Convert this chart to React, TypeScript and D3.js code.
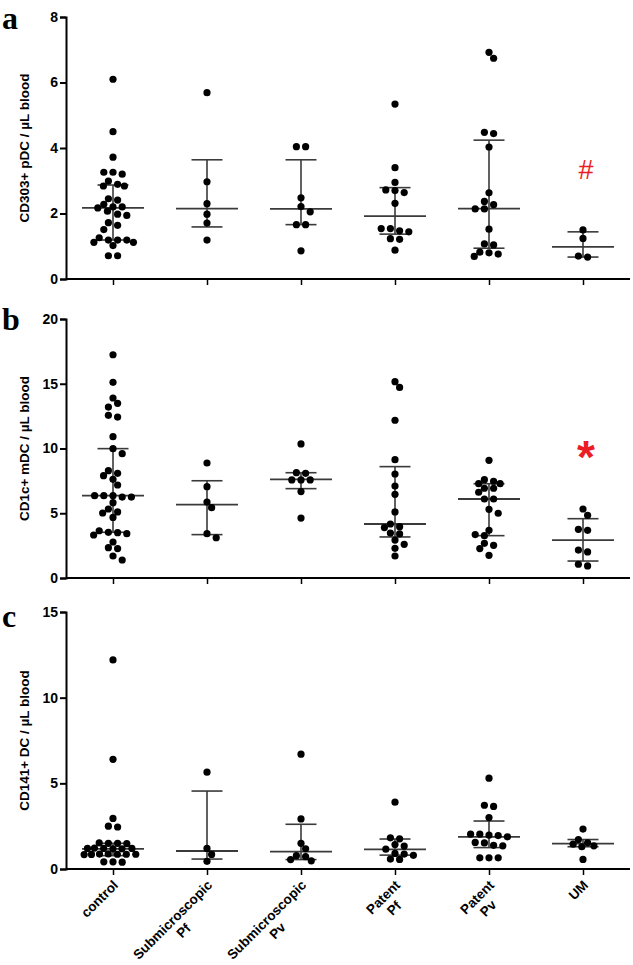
import React, { useEffect, useRef } from "react";
import * as d3 from "d3";

// groups along the x axis (label lines as printed)
const groups = ["control", "Submicroscopic Pf", "Submicroscopic Pv", "Patent Pf", "Patent Pv", "UM"];
const groupLabelLines = [
  ["control"],
  ["Submicroscopic", "Pf"],
  ["Submicroscopic", "Pv"],
  ["Patent", "Pf"],
  ["Patent", "Pv"],
  ["UM"],
];

// panel a: CD303+ pDC / uL blood
const pdcControl = [6.1, 4.5, 3.72, 3.26, 3.2, 3.26, 2.99, 2.84, 2.84, 2.89, 2.45, 2.41, 2.28, 2.2, 2.17, 2.2, 2.07, 1.98, 1.94, 1.72, 1.64, 1.51, 1.19, 1.19, 1.12, 1.12, 1.19, 1.26, 1.02, 0.71, 0.71];
const pdcSubPf = [5.69, 2.97, 2.3, 1.98, 1.71, 1.19];
const pdcSubPv = [4.04, 4.04, 2.48, 2.21, 2.05, 1.66, 1.66, 0.86];
const pdcPatPf = [5.34, 3.4, 2.95, 2.72, 2.64, 2.7, 2.31, 1.47, 1.54, 1.54, 1.44, 1.23, 1.21, 0.88];
const pdcPatPv = [6.92, 6.74, 4.44, 4.48, 4.03, 2.63, 2.37, 2.27, 2.14, 2.14, 1.52, 1.07, 1.04, 0.8, 0.69, 0.76, 0.82];
const pdcUM = [1.5, 1.24, 0.67, 0.7];
const pdcMedian = [2.17, 2.15, 2.14, 1.92, 2.15, 0.98];
const pdcQ1 = [1.19, 1.59, 1.66, 1.37, 0.94, 0.67];
const pdcQ3 = [2.87, 3.64, 3.64, 2.79, 4.24, 1.44];

// panel b: CD1c+ mDC / uL blood
const mdcControl = [17.24, 15.11, 13.9, 13.49, 13.2, 12.56, 12.43, 10.91, 9.99, 9.6, 8.08, 8.29, 7.62, 7.9, 7.18, 6.36, 6.25, 6.25, 6.36, 6.36, 5.82, 5.33, 5.1, 5.02, 4.68, 3.65, 3.5, 3.32, 3.42, 3.53, 2.78, 2.34, 2.27, 1.7, 1.39];
const mdcSubPf = [8.88, 7.05, 5.87, 5.43, 3.42, 3.11];
const mdcSubPv = [10.35, 8.13, 8.08, 7.57, 7.57, 7.57, 6.67, 4.63];
const mdcPatPf = [15.16, 14.72, 12.18, 9.14, 8.03, 7.1, 6.46, 5.1, 4.17, 3.89, 3.96, 3.4, 3.47, 2.93, 2.6, 2.29, 1.7];
const mdcPatPv = [9.09, 7.59, 7.47, 7.28, 7.28, 6.93, 6.93, 6.62, 6.1, 6.1, 5.3, 5.0, 3.68, 3.27, 3.35, 2.68, 2.52, 2.27, 1.75];
const mdcUM = [5.33, 4.84, 3.68, 3.76, 2.16, 2.01, 0.93, 1.06];
const mdcMedian = [6.36, 5.66, 7.62, 4.17, 6.1, 2.93];
const mdcQ1 = [3.53, 3.35, 6.9, 3.17, 3.27, 1.31];
const mdcQ3 = [9.99, 7.51, 8.13, 8.6, 7.28, 4.58];

// panel c: CD141+ DC / uL blood
const cd141Control = [12.2, 6.4, 2.95, 2.5, 2.45, 1.52, 1.5, 1.5, 1.48, 1.2, 1.18, 1.2, 1.22, 1.18, 1.2, 0.86, 0.84, 0.88, 0.86, 0.85, 0.87, 0.86, 0.42, 0.4, 0.42];
const cd141SubPf = [5.65, 1.2, 0.85, 0.45];
const cd141SubPv = [6.7, 2.92, 1.5, 1.18, 0.78, 0.72, 0.55, 0.48];
const cd141PatPf = [3.9, 1.82, 1.76, 1.43, 1.34, 1.16, 0.91, 0.8, 0.87, 0.58, 0.56];
const cd141PatPv = [5.3, 3.65, 3.72, 3.0, 2.03, 1.98, 1.88, 1.95, 2.03, 1.55, 1.52, 1.35, 1.38, 0.65, 0.65, 0.65];
const cd141UM = [2.33, 1.72, 1.53, 1.45, 1.35, 1.3, 0.56];
const cd141Median = [1.18, 1.05, 1.01, 1.14, 1.88, 1.48];
const cd141Q1 = [0.78, 0.58, 0.55, 0.81, 1.25, 1.3];
const cd141Q3 = [1.5, 4.55, 2.61, 1.75, 2.8, 1.72];

const W = 633;
const H = 965;
const FONT = "'Liberation Sans', Arial, Helvetica, sans-serif";
const LINE = "#3a3a3a";
const RED = "#ec1c24";

const panels = [
  {
    letter: "a", title: "CD303+ pDC / \u00b5L blood", max: 8, step: 2, top: 17, bottom: 279, letterY: 29,
    values: [pdcControl, pdcSubPf, pdcSubPv, pdcPatPf, pdcPatPv, pdcUM],
    median: pdcMedian, q1: pdcQ1, q3: pdcQ3,
    mark: { text: "#", size: 27, weight: "normal", y: 179 },
  },
  {
    letter: "b", title: "CD1c+ mDC / \u00b5L blood", max: 20, step: 5, top: 319, bottom: 578, letterY: 330,
    values: [mdcControl, mdcSubPf, mdcSubPv, mdcPatPf, mdcPatPv, mdcUM],
    median: mdcMedian, q1: mdcQ1, q3: mdcQ3,
    mark: { text: "*", size: 46, weight: "bold", y: 473 },
  },
  {
    letter: "c", title: "CD141+ DC / \u00b5L blood", max: 15, step: 5, top: 612, bottom: 869, letterY: 627,
    values: [cd141Control, cd141SubPf, cd141SubPv, cd141PatPf, cd141PatPv, cd141UM],
    median: cd141Median, q1: cd141Q1, q3: cd141Q3,
    mark: null,
  },
];

// GraphPad-like scatter: rows of near-equal values spread symmetrically
function swarm(values: number[], y: (v: number) => number, s = 9.2, D = 7, th = 3.5) {
  const pts = values.map((v) => ({ v, y: y(v), x: 0 }));
  const sorted = [...pts].sort((a, b) => a.y - b.y);
  const rows: typeof pts[] = [];
  sorted.forEach((p) => {
    const last = rows[rows.length - 1];
    if (last && p.y - last[0].y < th) last.push(p);
    else rows.push([p]);
  });
  const placed: typeof pts = [];
  const fits = (x: number, yy: number) => placed.every((q) => Math.hypot(q.x - x, q.y - yy) >= D - 0.01);
  rows.forEach((row) => {
    const n = row.length;
    const layouts = [0, s / 2, -s / 2, s, -s].map((shift) => row.map((_, i) => (i - (n - 1) / 2) * s + shift));
    const ok = layouts.find((l) => l.every((x, i) => fits(x, row[i].y)));
    if (ok) {
      row.forEach((p, i) => { p.x = ok[i]; placed.push(p); });
      return;
    }
    row.forEach((p) => {
      const cands = [0];
      placed.forEach((q) => {
        const dy = Math.abs(q.y - p.y);
        if (dy < D) {
          const w = Math.sqrt(D * D - dy * dy);
          cands.push(q.x - w, q.x + w);
        }
      });
      cands.sort((a, b) => Math.abs(a) - Math.abs(b));
      p.x = cands.find((c) => fits(c, p.y)) ?? 0;
      placed.push(p);
    });
  });
  return pts;
}

export default function App() {
  const svgRef = useRef<SVGSVGElement>(null);

  useEffect(() => {
    if (!svgRef.current) return;
    const svg = d3.select(svgRef.current);
    svg.selectAll("*").remove();

    const axisLeft = 66;
    const axisRight = 630;
    const x = d3.scalePoint<string>().domain(groups).range([axisLeft, axisRight]).padding(0.5);

    panels.forEach((p, pi) => {
      const y = d3.scaleLinear().domain([0, p.max]).range([p.bottom, p.top]);
      const g = svg.append("g");

      // panel letter
      g.append("text")
        .attr("x", 2).attr("y", p.letterY)
        .attr("font-family", "'Liberation Serif', 'Times New Roman', serif")
        .attr("font-weight", "bold").attr("font-size", 32)
        .text(p.letter);

      // y axis title
      g.append("text")
        .attr("transform", `translate(24,${(p.top + p.bottom) / 2}) rotate(-90)`)
        .attr("text-anchor", "middle").attr("dy", "0.35em")
        .attr("font-family", FONT).attr("font-weight", "bold").attr("font-size", 13.5)
        .text(p.title);

      // y axis
      const yAxis = d3.axisLeft(y).tickValues(d3.range(0, p.max + 0.001, p.step)).tickSize(6).tickPadding(2).tickFormat(d3.format("d"));
      const ya = g.append("g").attr("transform", `translate(${axisLeft},0)`).call(yAxis);
      ya.select(".domain").attr("stroke", "#000").attr("stroke-width", 2);
      ya.selectAll(".tick line").attr("stroke", "#000").attr("stroke-width", 2);
      ya.selectAll(".tick text").attr("font-family", FONT).attr("font-weight", "bold").attr("font-size", 14).attr("fill", "#000");

      // x axis
      const xAxis = d3.axisBottom(x).tickSize(6).tickFormat(() => "");
      const xa = g.append("g").attr("transform", `translate(0,${p.bottom})`).call(xAxis);
      xa.select(".domain").attr("stroke", "#000").attr("stroke-width", 2).attr("d", `M${axisLeft},0H${axisRight}`);
      xa.selectAll(".tick line").attr("stroke", "#000").attr("stroke-width", 1.5);

      // median + interquartile range
      groups.forEach((grp, i) => {
        const cx = x(grp)!;
        const bars = g.append("g").attr("stroke", LINE).attr("fill", "none");
        bars.append("line").attr("x1", cx).attr("x2", cx).attr("y1", y(p.q1[i])).attr("y2", y(p.q3[i])).attr("stroke-width", 1.6);
        bars.append("line").attr("x1", cx - 15.5).attr("x2", cx + 15.5).attr("y1", y(p.q1[i])).attr("y2", y(p.q1[i])).attr("stroke-width", 1.6);
        bars.append("line").attr("x1", cx - 15.5).attr("x2", cx + 15.5).attr("y1", y(p.q3[i])).attr("y2", y(p.q3[i])).attr("stroke-width", 1.6);
        bars.append("line").attr("x1", cx - 31).attr("x2", cx + 31).attr("y1", y(p.median[i])).attr("y2", y(p.median[i])).attr("stroke-width", 1.8);
      });

      // dots
      groups.forEach((grp, i) => {
        const cx = x(grp)!;
        const pts = swarm(p.values[i], y);
        g.append("g").selectAll("circle").data(pts).join("circle")
          .attr("cx", (d) => cx + d.x).attr("cy", (d) => d.y).attr("r", 3.6).attr("fill", "#000");
      });

      // significance mark on UM
      if (p.mark) {
        g.append("text")
          .attr("x", x("UM")! + 3).attr("y", p.mark.y)
          .attr("text-anchor", "middle")
          .attr("font-family", FONT).attr("font-weight", p.mark.weight).attr("font-size", p.mark.size)
          .attr("fill", RED)
          .text(p.mark.text);
      }

      // category labels under the last panel
      if (pi === panels.length - 1) {
        groups.forEach((grp, i) => {
          const lines = groupLabelLines[i];
          const lab = g.append("g")
            .attr("transform", `translate(${x(grp)! + 6},${p.bottom + 17}) rotate(-45)`)
            .attr("font-family", FONT).attr("font-weight", "bold").attr("font-size", 13.5);
          const texts = lines.map((t, li) => lab.append("text").attr("y", li * 15.5).attr("text-anchor", "middle").text(t));
          const maxW = d3.max(texts, (t) => (t.node() as SVGTextElement).getComputedTextLength()) || 0;
          texts.forEach((t) => t.attr("x", -maxW / 2));
        });
      }
    });
  }, []);

  return (
    <svg
      ref={svgRef}
      width={W}
      height={H}
      style={{ display: "block", position: "absolute", left: 0, top: 0, background: "#fff" }}
    />
  );
}
